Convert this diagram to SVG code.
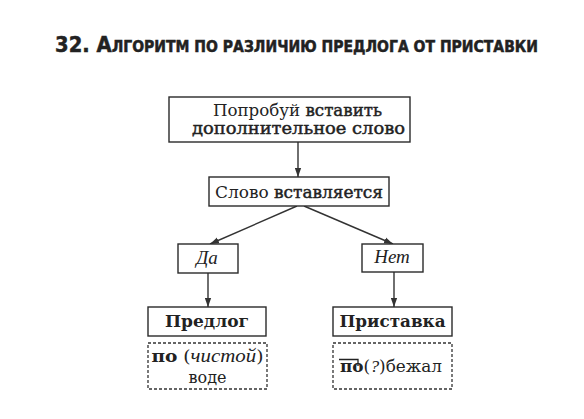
<svg xmlns="http://www.w3.org/2000/svg" width="584" height="419" viewBox="0 0 584 419">
<style>
.box{fill:#fff;stroke:#2a2a2a;stroke-width:1.4}
.dash{fill:none;stroke:#333;stroke-width:1.3;stroke-dasharray:3 2}
.t{font-family:"DejaVu Serif","Liberation Serif",serif;font-size:16px;fill:#222}
.b{font-weight:bold}
.sb{stroke:#222;stroke-width:0.45}
.i{font-family:"Liberation Serif",serif;font-style:italic}
.big{font-size:19px}
.title{font-family:"DejaVu Sans","Liberation Sans",sans-serif;font-weight:bold;fill:#222;stroke:#222;stroke-width:0.5}
#connectors line{stroke:#333;stroke-width:1.4}
</style>
<defs>
<marker id="ah" viewBox="0 0 10 7" markerWidth="9" markerHeight="7" refX="10" refY="3.5" orient="auto" markerUnits="userSpaceOnUse">
<path d="M0,0 L10,3.5 L0,7 z" fill="#333"/>
</marker>
</defs>
<rect width="584" height="419" fill="#fff"/>
<text class="title" x="55" y="52" textLength="483" lengthAdjust="spacingAndGlyphs"><tspan font-size="21">32. А</tspan><tspan font-size="15">ЛГОРИТМ ПО РАЗЛИЧИЮ ПРЕДЛОГА ОТ ПРИСТАВКИ</tspan></text>
<g id="connectors">
<line x1="298" y1="142" x2="298" y2="177" marker-end="url(#ah)"/>
<line x1="297" y1="206" x2="210" y2="244" marker-end="url(#ah)"/>
<line x1="304" y1="206" x2="393" y2="244" marker-end="url(#ah)"/>
<line x1="208" y1="273" x2="208" y2="307" marker-end="url(#ah)"/>
<line x1="394" y1="272" x2="394" y2="307" marker-end="url(#ah)"/>
</g>
<g id="n-try">
<rect class="box" x="169" y="97" width="241" height="45"/>
<text class="t" x="297.5" y="116" text-anchor="middle" textLength="169" lengthAdjust="spacingAndGlyphs">Попробуй <tspan class="sb">вставить</tspan></text>
<text class="t sb" x="298.5" y="134" text-anchor="middle" textLength="213" lengthAdjust="spacingAndGlyphs">дополнительное слово</text>
</g>
<g id="n-inserts">
<rect class="box" x="209" y="177" width="180" height="29"/>
<text class="t" x="299" y="198" text-anchor="middle" textLength="168" lengthAdjust="spacingAndGlyphs">Слово <tspan class="sb">вставляется</tspan></text>
</g>
<g id="n-yes">
<rect class="box" x="178" y="244" width="60" height="29"/>
<text class="t i big" x="207" y="264" text-anchor="middle">Да</text>
</g>
<g id="n-no">
<rect class="box" x="362" y="244" width="61" height="28"/>
<text class="t i big" x="392" y="263" text-anchor="middle">Нет</text>
</g>
<g id="n-prep">
<rect class="box" x="148" y="307" width="118" height="29"/>
<text class="t b" x="207" y="327" text-anchor="middle" textLength="84" lengthAdjust="spacingAndGlyphs">Предлог</text>
</g>
<g id="n-prefix">
<rect class="box" x="333" y="307" width="119" height="29"/>
<text class="t b" x="392.5" y="327" text-anchor="middle" textLength="106" lengthAdjust="spacingAndGlyphs">Приставка</text>
</g>
<g id="n-prep-ex">
<rect class="dash" x="148" y="343" width="119" height="46"/>
<text class="t" x="207.5" y="362" text-anchor="middle" textLength="112" lengthAdjust="spacingAndGlyphs"><tspan class="b">по</tspan> (<tspan class="i" font-size="18">чистой</tspan>)</text>
<text class="t" x="207.5" y="383" text-anchor="middle">воде</text>
</g>
<g id="n-prefix-ex">
<rect class="dash" x="333" y="343" width="119" height="46"/>
<text class="t" x="391" y="372" text-anchor="middle" textLength="102" lengthAdjust="spacingAndGlyphs"><tspan class="b">по</tspan>(<tspan class="i" font-size="17">?</tspan>)бежал</text>
<path id="prefix-mark" d="M339,359.5 H358 V366" fill="none" stroke="#222" stroke-width="1.3"/>
</g>
</svg>
